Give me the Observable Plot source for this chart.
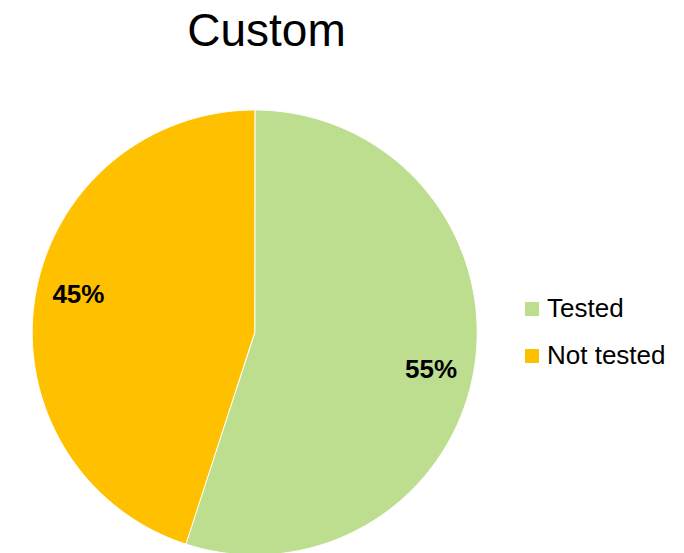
<!DOCTYPE html>
<html>
<head>
<meta charset="utf-8">
<script src="https://cdn.jsdelivr.net/npm/d3@7"></script>
<script src="https://cdn.jsdelivr.net/npm/@observablehq/plot@0.6"></script>
<style>
  body { margin: 0; background: #fff; font-family: "Liberation Sans", Arial, sans-serif; }
  #wrap { position: relative; width: 684px; height: 553px; overflow: hidden; }
  #legend { position: absolute; left: 525px; top: 296px; }
  .row { display: flex; align-items: center; height: 25px; margin-bottom: 22px; font-size: 26px; line-height: 25px; color: #000; }
  .sw { width: 14px; height: 14px; margin-right: 8px; }
</style>
</head>
<body>
<div id="wrap"></div>
<script>
const title = "Custom";
const categories = ["Tested", "Not tested"];
const values = [55, 45];
const labels = ["55%", "45%"];
const colors = ["#bddd8f", "#ffc000"];

// Build slice polygons from the values (clockwise from 12 o'clock)
const total = d3.sum(values);
const points = [];
const labelData = [];
let acc = 0;
categories.forEach((cat, i) => {
  const a0 = acc / total * 2 * Math.PI;
  acc += values[i];
  const a1 = acc / total * 2 * Math.PI;
  points.push({cat, x: 0, y: 0});
  const n = 240;
  for (let k = 0; k <= n; k++) {
    const t = a0 + (a1 - a0) * k / n;
    points.push({cat, x: Math.sin(t), y: Math.cos(t)});
  }
  const mid = (a0 + a1) / 2 + 3 * Math.PI / 180;
  labelData.push({cat, text: labels[i], x: 0.81 * Math.sin(mid), y: 0.81 * Math.cos(mid)});
});

const chart = Plot.plot({
  width: 684,
  height: 553,
  margin: 0,
  x: {domain: [-1, 1], range: [31.7, 476.7], axis: null},
  y: {domain: [-1, 1], range: [554.5, 109.5], axis: null},
  color: {domain: categories, range: colors},
  style: {fontFamily: '"Liberation Sans", Arial, sans-serif', background: "#fff"},
  marks: [
    Plot.line(points, {x: "x", y: "y", z: "cat", fill: "cat", stroke: "white", strokeWidth: 1, curve: "linear-closed"}),
    Plot.text(labelData, {x: "x", y: "y", text: "text", fontSize: 26, fontWeight: "bold", fill: "#000"}),
    Plot.text([title], {frameAnchor: "top", lineAnchor: "middle", text: d => d, dx: -76, dy: 31, fontSize: 46, fill: "#000"})
  ]
});

const wrap = document.getElementById("wrap");
wrap.appendChild(chart);

const legend = document.createElement("div");
legend.id = "legend";
categories.forEach((cat, i) => {
  const row = document.createElement("div");
  row.className = "row";
  const sw = document.createElement("div");
  sw.className = "sw";
  sw.style.background = colors[i];
  const label = document.createElement("span");
  label.textContent = cat;
  row.appendChild(sw);
  row.appendChild(label);
  legend.appendChild(row);
});
wrap.appendChild(legend);
</script>
</body>
</html>
